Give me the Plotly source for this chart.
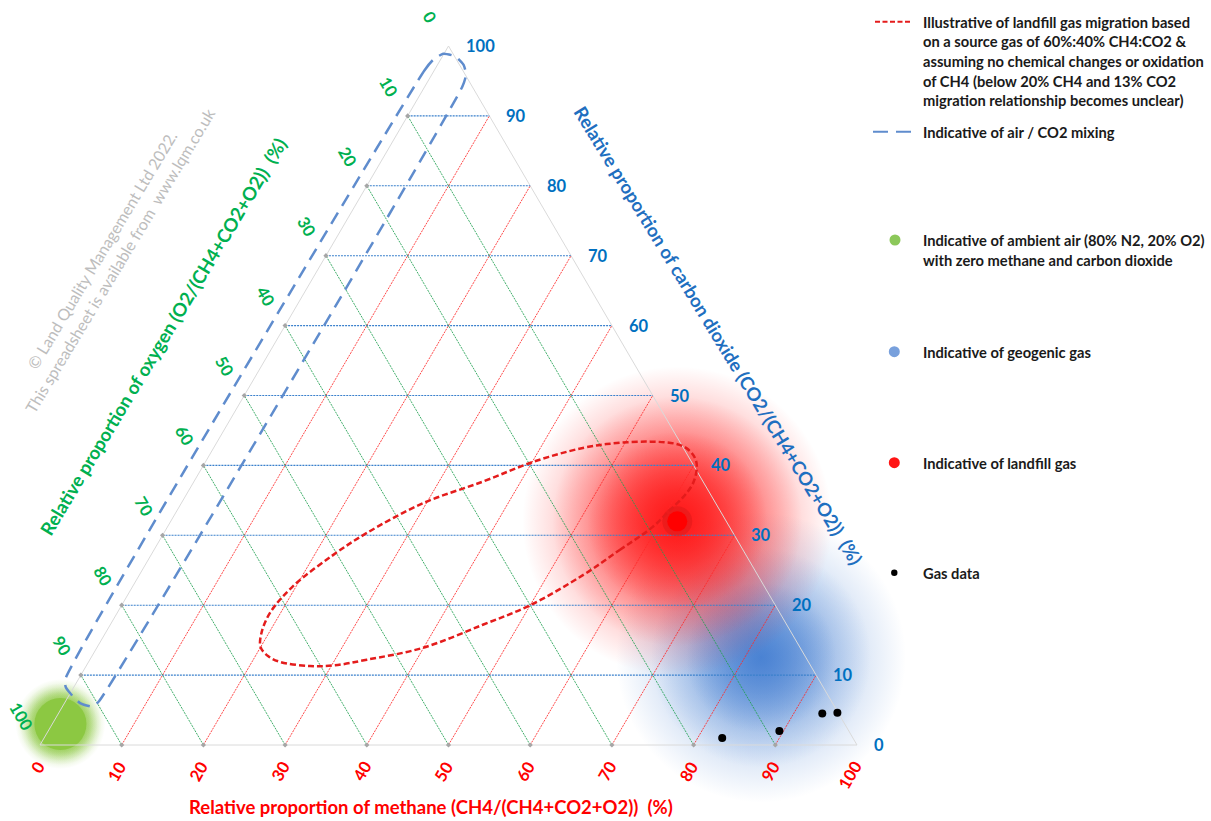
import plotly.graph_objects as go

# ---------------- tick values ----------------
ch4_ticks = [0, 10, 20, 30, 40, 50, 60, 70, 80, 90, 100]
co2_ticks = [0, 10, 20, 30, 40, 50, 60, 70, 80, 90, 100]
o2_ticks = [0, 10, 20, 30, 40, 50, 60, 70, 80, 90, 100]
grid_levels = [10, 20, 30, 40, 50, 60, 70, 80, 90]

# ---------------- series (CH4 %, CO2 %) ----------------
# landfill gas migration loop
migration_ch4 = [54.3, 57.0, 59.4, 60.3, 61.0, 61.2, 60.5, 59.6, 58.0, 56.2, 53.0, 49.0,
                 45.2, 40.1, 35.4, 29.6, 24.8, 22.3, 19.6, 18.7, 19.1, 20.0, 21.6, 23.4,
                 27.4, 30.4, 33.9, 39.9, 45.6, 50.0, 54.3]
migration_co2 = [24.3, 27.9, 31.2, 33.6, 35.5, 37.5, 39.8, 41.1, 42.4, 43.1, 43.4, 43.2,
                 42.5, 40.5, 37.7, 34.6, 30.3, 27.2, 22.7, 18.9, 16.0, 14.0, 12.7, 11.9,
                 11.3, 11.4, 12.2, 13.9, 17.2, 20.0, 24.3]

# air / CO2 mixing band outline
mixing_ch4 = [-1.6, -1.2, -0.9, -0.1, 1.6, 3.2, 4.2, 4.6, 4.1, 3.7, 1.9, 0.0, -1.0, -1.6]
mixing_co2 = [9.3, 96.5, 98.0, 98.9, 98.5, 97.3, 95.9, 94.2, 6.3, 5.5, 6.0, 7.4, 8.3, 9.3]

# gas data
gas_ch4 = [83.0, 89.5, 93.5, 95.3]
gas_co2 = [1.0, 2.0, 4.5, 4.6]

# indicative zone centres
air_ch4, air_co2 = [1.0], [3.0]
geo_ch4, geo_co2 = [82.0], [12.5]
lfg_ch4, lfg_co2 = [62.0], [32.0]

# ---------------- texts ----------------
title_ch4 = "Relative proportion of methane (CH4/(CH4+CO2+O2))\u00a0 (%)"
title_o2 = "Relative proportion of oxygen (O2/(CH4+CO2+O2))\u00a0 (%)"
title_co2 = "Relative proportion of carbon dioxide (CO2/(CH4+CO2+O2))\u00a0 (%)"
copyright_lines = ["\u00a9 Land Quality Management Ltd 2022.",
                   "This spreadsheet is available from\u00a0 www.lqm.co.uk"]
legend_migration = ["Illustrative of landfill gas migration based",
                    "on a source gas of 60%:40% CH4:CO2 &",
                    "assuming no chemical changes or oxidation",
                    "of CH4 (below 20% CH4 and 13% CO2",
                    "migration relationship becomes unclear)"]
legend_mixing = ["Indicative of air / CO2 mixing"]
legend_air = ["Indicative of ambient air (80% N2, 20% O2)",
              "with zero methane and carbon dioxide"]
legend_geo = ["Indicative of geogenic gas"]
legend_lfg = ["Indicative of landfill gas"]
legend_data = ["Gas data"]

# ---------------- geometry ----------------
W, H = 1211, 821
LEFT_PX, RIGHT_PX, BASE_PX, APEX_PX = 40, 857, 745, 46
sx = (RIGHT_PX - LEFT_PX) / 100.0
sy = (BASE_PX - APEX_PX) / 100.0
x_range = [-LEFT_PX / sx, (W - LEFT_PX) / sx]
y_range = [-(H - BASE_PX) / sy, BASE_PX / sy]

FONT = "Lato"
RED = "#FF0000"
GREEN = "#00B050"
BLUE = "#0070C0"


def to_xy(ch4, co2):
    xs, ys = [], []
    for a, b in zip(ch4, co2):
        if a is None:
            xs.append(None)
            ys.append(None)
        else:
            xs.append(a + b / 2.0)
            ys.append(b)
    return xs, ys


def segments(pairs):
    c, d = [], []
    for (a0, b0), (a1, b1) in pairs:
        c += [a0, a1, None]
        d += [b0, b1, None]
    return to_xy(c, d)


def px(x):
    return x / W


def py(y):
    return 1 - y / H


fig = go.Figure()


def glow(ch4, co2, rgb, sizes, alpha):
    x, y = to_xy(ch4, co2)
    for s in sizes:
        fig.add_trace(go.Scatter(
            x=x, y=y, mode="markers", hoverinfo="skip", showlegend=False,
            marker=dict(size=s, color="rgba(%s,0)" % rgb,
                        gradient=dict(type="radial", color="rgba(%s,%s)" % (rgb, alpha)),
                        line=dict(width=0))))


# blobs
glow(geo_ch4, geo_co2, "62,122,208", [290, 220, 150], 0.6)
glow(lfg_ch4, lfg_co2, "255,20,20", [310, 250, 180], 0.72)
glow(air_ch4, air_co2, "140,200,66", [90, 82, 74, 66], 1.0)
ax_, ay_ = to_xy(air_ch4, air_co2)
fig.add_trace(go.Scatter(x=ax_, y=ay_, mode="markers", hoverinfo="skip", showlegend=False,
                         marker=dict(size=52, color="rgb(140,200,66)", line=dict(width=0))))

# triangle outline
ox, oy = to_xy([0, 100, 0, 0], [0, 0, 100, 0])
fig.add_trace(go.Scatter(x=ox, y=oy, mode="lines", hoverinfo="skip", showlegend=False,
                         line=dict(color="#DADADA", width=1)))

# grid lines
gx, gy = segments([((0, c), (100 - c, c)) for c in grid_levels])
fig.add_trace(go.Scatter(x=gx, y=gy, mode="lines", hoverinfo="skip", showlegend=False,
                         line=dict(color="#3A80CC", width=1.1, dash="2px,1px")))
gx, gy = segments([((m, 0), (m, 100 - m)) for m in grid_levels])
fig.add_trace(go.Scatter(x=gx, y=gy, mode="lines", hoverinfo="skip", showlegend=False,
                         line=dict(color="rgba(255,40,40,0.85)", width=1, dash="2px,1px")))
gx, gy = segments([((100 - o, 0), (0, 100 - o)) for o in grid_levels])
fig.add_trace(go.Scatter(x=gx, y=gy, mode="lines", hoverinfo="skip", showlegend=False,
                         line=dict(color="rgba(30,160,80,0.85)", width=1, dash="2px,1px")))

# small grey end markers
ex, ey = to_xy([0] * len(grid_levels) + grid_levels,
               [100 - o for o in grid_levels] + [0] * len(grid_levels))
fig.add_trace(go.Scatter(x=ex, y=ey, mode="markers", hoverinfo="skip", showlegend=False,
                         marker=dict(size=4, color="#A6A6A6", symbol="diamond")))

# landfill gas core
lx, ly = to_xy(lfg_ch4, lfg_co2)
fig.add_trace(go.Scatter(x=lx, y=ly, mode="markers", hoverinfo="skip", showlegend=False,
                         marker=dict(size=30, color="rgba(215,25,25,0.45)", line=dict(width=0))))
fig.add_trace(go.Scatter(x=lx, y=ly, mode="markers", hoverinfo="skip", showlegend=False,
                         marker=dict(size=20, color="rgb(255,0,0)", line=dict(width=0))))

# migration loop
mx, my = to_xy(migration_ch4, migration_co2)
fig.add_trace(go.Scatter(x=mx, y=my, mode="lines", hoverinfo="skip", showlegend=False,
                         line=dict(color="rgb(228,28,28)", width=2.5, dash="6px,3px",
                                   shape="spline", smoothing=1)))

# mixing band
bx, by = to_xy(mixing_ch4, mixing_co2)
fig.add_trace(go.Scatter(x=bx, y=by, mode="lines", hoverinfo="skip", showlegend=False,
                         line=dict(color="rgb(95,140,205)", width=2.5, dash="13px,8px",
                                   shape="spline", smoothing=0.5)))

# gas data
dx, dy = to_xy(gas_ch4, gas_co2)
fig.add_trace(go.Scatter(x=dx, y=dy, mode="markers", hoverinfo="skip", showlegend=False,
                         marker=dict(size=8, color="black")))

ann = []
tick_font = 16.5
# CO2 tick labels (right edge)
for c in co2_ticks:
    x, y = to_xy([100 - c], [c])
    ann.append(dict(x=x[0], y=y[0], xref="x", yref="y", text="<b>%d</b>" % c, showarrow=False,
                    xanchor="left", yanchor="middle", xshift=15,
                    font=dict(family=FONT, size=tick_font, color=BLUE)))
# O2 tick labels (left edge)
for o in o2_ticks:
    x, y = to_xy([0], [100 - o])
    ann.append(dict(x=x[0], y=y[0], xref="x", yref="y", text="<b>%d</b>" % o, showarrow=False,
                    xanchor="center", yanchor="middle", xshift=-19, yshift=29, textangle=60,
                    font=dict(family=FONT, size=tick_font, color=GREEN)))
# CH4 tick labels (bottom edge)
for m in ch4_ticks:
    x, y = to_xy([m], [0])
    n = len(str(m))
    ann.append(dict(x=x[0], y=y[0], xref="x", yref="y", text="<b>%d</b>" % m, showarrow=False,
                    xanchor="center", yanchor="middle", xshift=0.5 - 2.4 * n,
                    yshift=-(18 + 4.1 * n), textangle=-60,
                    font=dict(family=FONT, size=tick_font, color=RED)))

# axis titles
ann.append(dict(x=px(431), y=py(807), xref="paper", yref="paper", text="<b>%s</b>" % title_ch4,
                showarrow=False, xanchor="center", yanchor="middle",
                font=dict(family=FONT, size=18.5, color=RED)))
ann.append(dict(x=px(163), y=py(337), xref="paper", yref="paper", text="<b>%s</b>" % title_o2,
                showarrow=False, xanchor="center", yanchor="middle", textangle=-59,
                font=dict(family=FONT, size=18.5, color=GREEN)))
ann.append(dict(x=px(718), y=py(335), xref="paper", yref="paper", text="<b>%s</b>" % title_co2,
                showarrow=False, xanchor="center", yanchor="middle", textangle=58.5,
                font=dict(family=FONT, size=18.5, color="#1F6FC0")))
ann.append(dict(x=px(111), y=py(255), xref="paper", yref="paper",
                text="<br>".join(copyright_lines), showarrow=False,
                xanchor="center", yanchor="middle", textangle=-59, align="center",
                font=dict(family=FONT, size=16, color="#BDBDBD")))

# legend text
LEG_X = 921
LEG_STEP = 19.6
legend_blocks = [(legend_migration, 21.7), (legend_mixing, 131.7), (legend_air, 240),
                 (legend_geo, 351.7), (legend_lfg, 462.7), (legend_data, 572.7)]
for lines, y0 in legend_blocks:
    for i, t in enumerate(lines):
        ann.append(dict(x=px(LEG_X), y=py(y0 + i * LEG_STEP), xref="paper", yref="paper",
                        text="<b>%s</b>" % t, showarrow=False, xanchor="left", yanchor="middle",
                        font=dict(family=FONT, size=14.7, color="#1A1A1A")))

shapes = [
    dict(type="line", xref="paper", yref="paper", x0=px(875), x1=px(912), y0=py(21.7), y1=py(21.7),
         line=dict(color="rgb(228,28,28)", width=2, dash="5px,2.5px")),
    dict(type="line", xref="paper", yref="paper", x0=px(873), x1=px(912), y0=py(131.7), y1=py(131.7),
         line=dict(color="rgb(95,140,205)", width=2, dash="15px,8px")),
]


def circ(cx, cy, r, color):
    return dict(type="circle", xref="paper", yref="paper", x0=px(cx - r), x1=px(cx + r),
                y0=py(cy + r), y1=py(cy - r), fillcolor=color, line=dict(width=0))


shapes += [circ(895, 240, 5.5, "rgb(140,200,90)"),
           circ(894.3, 351.7, 5.5, "rgb(120,160,220)"),
           circ(894.3, 462.7, 5.5, "rgb(255,20,20)"),
           circ(894.3, 572.7, 3.2, "black")]

fig.update_layout(
    width=W, height=H, margin=dict(l=0, r=0, t=0, b=0),
    paper_bgcolor="white", plot_bgcolor="white",
    xaxis=dict(range=x_range, visible=False, fixedrange=True),
    yaxis=dict(range=y_range, visible=False, fixedrange=True),
    annotations=ann, shapes=shapes, showlegend=False,
)

fig.write_html("out.html", config={"displayModeBar": False},
               post_script="document.body.style.margin='0px';")
